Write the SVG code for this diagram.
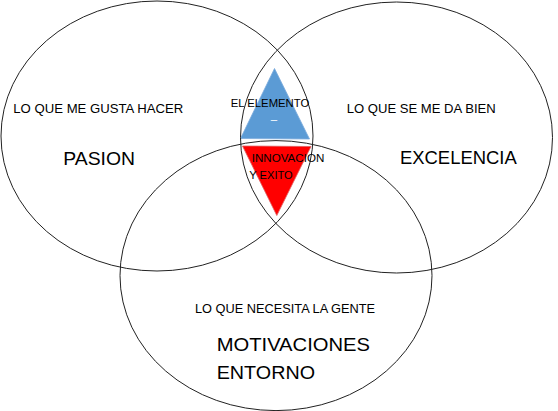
<svg xmlns="http://www.w3.org/2000/svg" width="558" height="411" viewBox="0 0 558 411">
<style>
.ring{fill:none;stroke:#222;stroke-width:1}
.t{font-family:"Liberation Sans",Arial,sans-serif;fill:#000}
.s{font-size:13.5px}
.b{font-size:19px}
.m{font-size:11.5px}
</style>
<rect width="558" height="411" fill="#fff"/>
<g id="triangles">
<polygon id="elemento-tri" points="274.5,68.5 240.5,138.5 309.5,139" fill="#5b9bd5" stroke="#7aa9dc" stroke-width="0.8"/>
<polygon id="innovacion-tri" points="242.5,146 311,146.5 276.8,215.5" fill="#ff0000" stroke="#e06060" stroke-width="0.8"/>
</g>
<g id="pasion">
<ellipse class="ring" cx="157" cy="136" rx="156" ry="135"/>
<text class="t s" x="13.3" y="113.3" textLength="170" lengthAdjust="spacingAndGlyphs">LO QUE ME GUSTA HACER</text>
<text class="t b" x="63.3" y="165" textLength="71.7" lengthAdjust="spacingAndGlyphs">PASION</text>
</g>
<g id="excelencia">
<ellipse class="ring" cx="396.5" cy="137.5" rx="156" ry="135.5"/>
<text class="t s" x="346.7" y="113.3" textLength="149" lengthAdjust="spacingAndGlyphs">LO QUE SE ME DA BIEN</text>
<text class="t b" x="400" y="164" textLength="116.7" lengthAdjust="spacingAndGlyphs">EXCELENCIA</text>
</g>
<g id="motivaciones">
<ellipse class="ring" cx="276" cy="275.6" rx="156" ry="135"/>
<text class="t s" x="195" y="312.7" textLength="180" lengthAdjust="spacingAndGlyphs">LO QUE NECESITA LA GENTE</text>
<text class="t b" x="216.7" y="350.7" textLength="153.3" lengthAdjust="spacingAndGlyphs">MOTIVACIONES</text>
<text class="t b" x="216.7" y="379.3" textLength="98.3" lengthAdjust="spacingAndGlyphs">ENTORNO</text>
</g>
<g id="elemento">
<text class="t m" x="230.7" y="107.3" textLength="78.6" lengthAdjust="spacingAndGlyphs">EL ELEMENTO</text>
<text class="t m" x="274" y="123" text-anchor="middle" style="fill:#fff">–</text>
</g>
<g id="innovacion">
<text class="t m" x="251.7" y="161.7" textLength="72.6" lengthAdjust="spacingAndGlyphs">INNOVACION</text>
<text class="t m" x="249.3" y="179" textLength="43.4" lengthAdjust="spacingAndGlyphs">Y EXITO</text>
</g>
</svg>
